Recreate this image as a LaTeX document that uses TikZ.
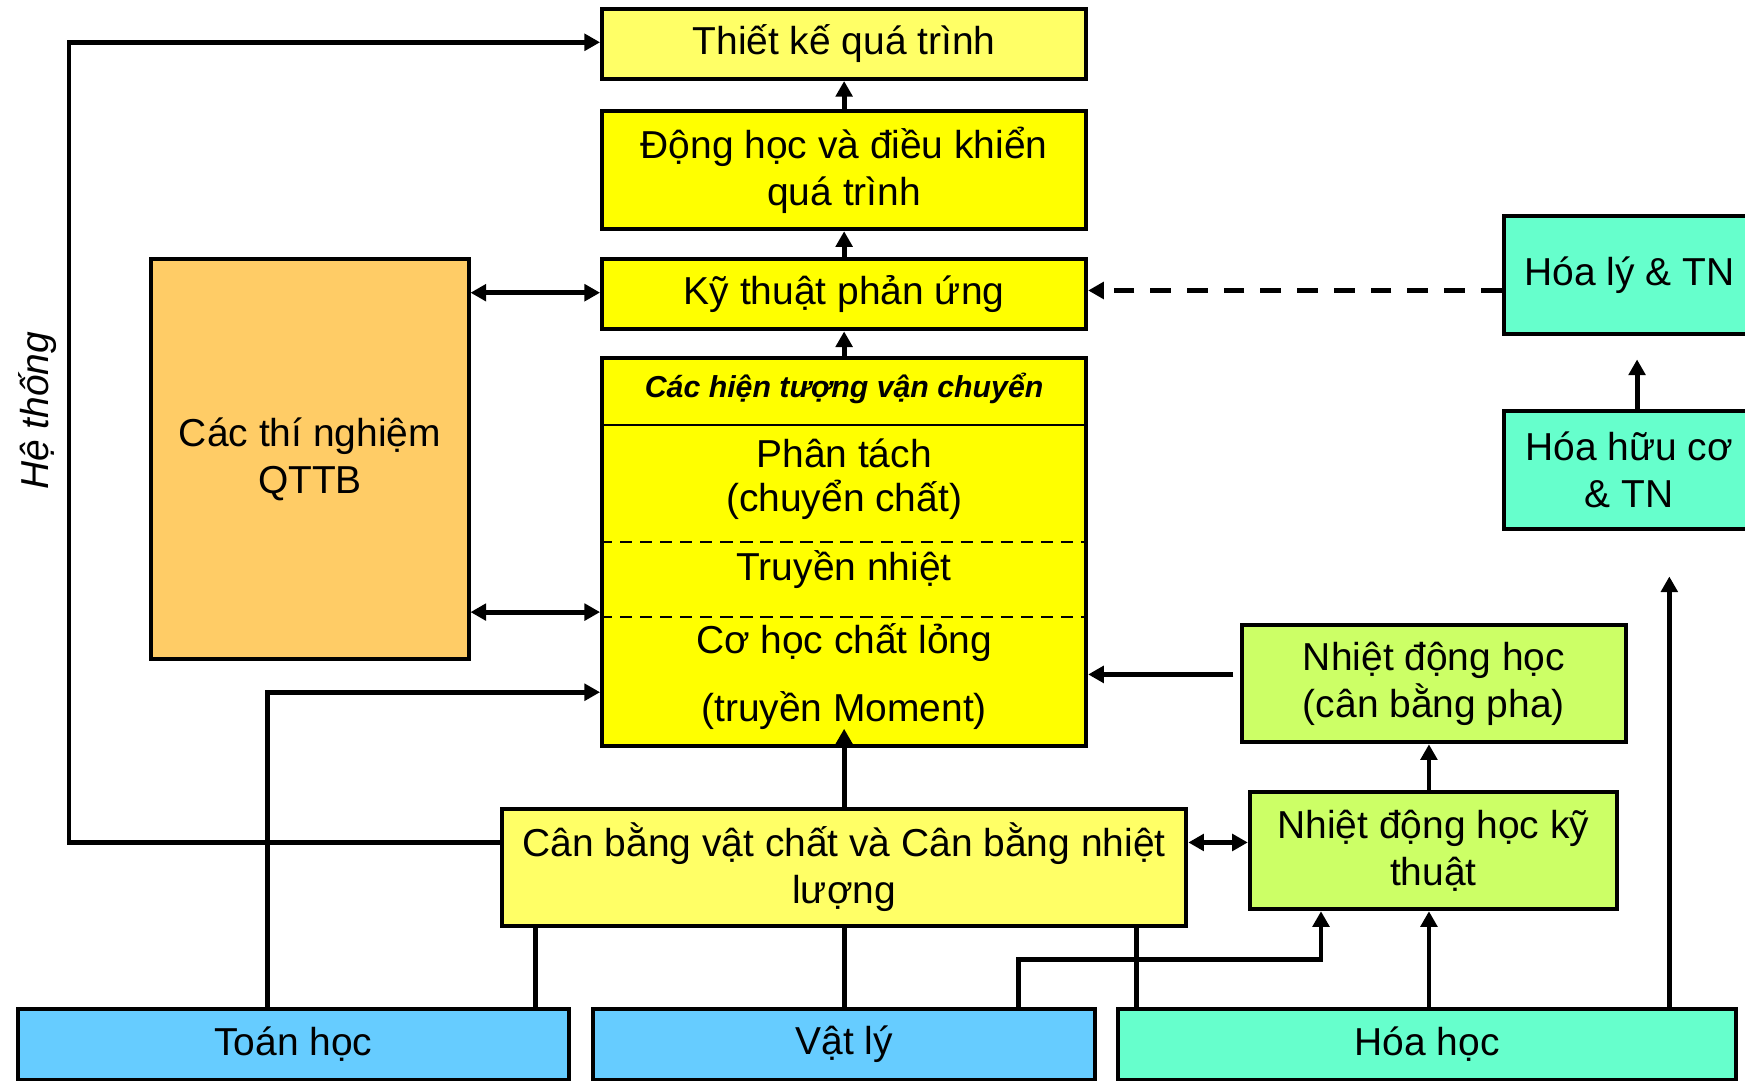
\documentclass[tikz,border=0pt]{standalone}
\usepackage{fontspec}
\setmainfont{Liberation Sans}
\usetikzlibrary{arrows.meta}
\definecolor{ylight}{HTML}{FFFF66}
\definecolor{ystrong}{HTML}{FFFF00}
\definecolor{orng}{HTML}{FFCC66}
\definecolor{aqua}{HTML}{66FFCC}
\definecolor{lime}{HTML}{CCFF66}
\definecolor{sky}{HTML}{66CCFF}
\newcommand\mysz{\fontsize{17.5}{21}\selectfont}
\begin{document}
\begin{tikzpicture}[x=0.5pt,y=-0.5pt,
  box/.style={draw, line width=1.8pt, align=center, font=\mysz, inner sep=2pt},
  txt/.style={font=\mysz, anchor=base, inner sep=0pt},
  arr/.style={line width=2.2pt, -{Triangle[length=7pt,width=7.4pt]}},
  darr/.style={line width=2.2pt, {Triangle[length=7pt,width=7.4pt]}-{Triangle[length=7pt,width=7.4pt]}},
  ln/.style={line width=2.2pt},
  dasharr/.style={line width=2.6pt, dash pattern=on 9.3pt off 7.2pt, -{Triangle[length=7pt,width=7.4pt]}},
  sep/.style={line width=0.9pt},
  dsep/.style={line width=0.9pt, dash pattern=on 5.5pt off 3.5pt}
]
\useasboundingbox (0,0) rectangle (1568,971);

% --- boxes ---
\node[box, fill=ylight, minimum width=217.5pt, minimum height=31.5pt] (tk) at (758.5,39.5) {Thiết kế quá trình};
\node[box, fill=ystrong, minimum width=217.5pt, minimum height=53pt] (dh) at (758.5,153) {Động học và điều khiển\\quá trình};
\node[box, fill=ystrong, minimum width=217.5pt, minimum height=31.5pt] (kt) at (758.5,264.5) {Kỹ thuật phản ứng};
\node[box, fill=ystrong, minimum width=217.5pt, minimum height=174pt] (big) at (758.5,496) {};
\node[box, fill=orng, minimum width=142.5pt, minimum height=179.5pt] (qttb) at (278.5,412.5) {Các thí nghiệm\\QTTB};
\node[box, fill=aqua, minimum width=113pt, minimum height=53pt] (hl) at (1464,247.5) {Hóa lý \& TN};
\node[box, fill=aqua, minimum width=113pt, minimum height=53pt] (hhc) at (1464,422.5) {Hóa hữu cơ\\\& TN};
\node[box, fill=lime, minimum width=172.5pt, minimum height=52.5pt] (nd) at (1288.5,614.5) {Nhiệt động học\\(cân bằng pha)};
\node[box, fill=lime, minimum width=165pt, minimum height=52.5pt] (nkt) at (1288,764.5) {Nhiệt động học kỹ\\thuật};
\node[box, fill=ylight, minimum width=307.5pt, minimum height=52.5pt] (cb) at (758.5,779.5) {Cân bằng vật chất và Cân bằng nhiệt\\lượng};
\node[box, fill=sky, minimum width=247.5pt, minimum height=31.5pt] (toan) at (263.5,938.5) {Toán học};
\node[box, fill=sky, minimum width=225.5pt, minimum height=31.5pt] (vl) at (758.5,938.5) {Vật lý};
\node[box, fill=aqua, minimum width=277.5pt, minimum height=31.5pt] (hh) at (1282.5,938.5) {Hóa học};

% --- inside the transport box ---
\draw[sep] (big.west |- 0,382) -- (big.east |- 0,382);
\draw[dsep] (big.west |- 0,487) -- (big.east |- 0,487);
\draw[dsep] (big.west |- 0,554) -- (big.east |- 0,554);
\node[font=\fontsize{13.6}{15}\selectfont\bfseries\itshape, anchor=base, inner sep=0pt] (hdr) at (758.5,357) {Các hiện tượng vận chuyển};
\node[txt] (pt1) at (758.5,420) {Phân tách};
\node[txt] (pt2) at (758.5,460) {(chuyển chất)};
\node[txt] (tn) at (758.5,522) {Truyền nhiệt};
\node[txt] (ch1) at (758.5,587) {Cơ học chất lỏng};
\node[txt] (ch2) at (758.5,648.5) {(truyền Moment)};

% --- side label ---
\node[font=\mysz\itshape, rotate=90] (ht) at (34,369) {Hệ thống};

% --- helper coordinates ---
\coordinate (hsx) at (62,400);
\coordinate (hhfree) at (1500,518);
\coordinate (hhcfree) at (1471,323);

% --- connectors ---
\draw[arr] (cb.west |- 0,757) -| (hsx) |- (tk.west |- 0,38);
\draw[arr] (dh.north) -- (tk.south);
\draw[arr] (kt.north) -- (dh.south);
\draw[arr] (big.north) -- (kt.south);
\draw[darr] (qttb.east |- 0,263) -- (kt.west |- 0,263);
\draw[darr] (qttb.east |- 0,550) -- (big.west |- 0,550);
\draw[arr] (toan.north -| 240,0) |- (big.west |- 0,622);
\draw[ln] (toan.north -| 481,0) -- (cb.south -| 481,0);
\draw[ln] (vl.north) -- (cb.south);
\draw[arr] (cb.north) -- ([yshift=8.5pt]big.south);
\draw[arr] (vl.north -| 915,0) |- (1187,862) -- (nkt.south -| 1187,0);
\draw[ln] (cb.south -| 1021,0) -- (hh.north -| 1021,0);
\draw[arr] (hh.north -| 1284,0) -- (nkt.south -| 1284,0);
\draw[arr] (hh.north -| 1500,0) -- (hhfree);
\draw[arr] (hhc.north -| 1471,0) -- (hhcfree);
\draw[dasharr] (hl.west |- 0,261) -- (kt.east |- 0,261);
\draw[arr] (nkt.north -| 1284,0) -- (nd.south -| 1284,0);
\draw[darr] (cb.east |- 0,757) -- (nkt.west |- 0,757);
\draw[arr] ([xshift=-3pt]nd.west |- 0,606) -- (big.east |- 0,606);
\end{tikzpicture}
\end{document}
